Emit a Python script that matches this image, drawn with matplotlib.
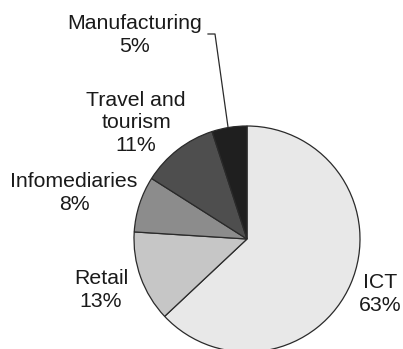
import matplotlib
matplotlib.use("Agg")
import matplotlib.pyplot as plt

categories = ["ICT", "Retail", "Infomediaries", "Travel and\ntourism", "Manufacturing"]
shares = [63, 13, 8, 11, 5]
colors = ["#e8e8e8", "#c6c6c6", "#8c8c8c", "#4e4e4e", "#1f1f1f"]

plt.rcParams['font.family'] = ['Liberation Sans', 'DejaVu Sans']

fig = plt.figure(figsize=(4.03, 3.49), dpi=100)
ax = fig.add_axes([0, 0, 1, 1])

# pixel-like coordinate system with y pointing down
cx, cy, r = 247, 239, 113
ax.pie(shares, colors=colors, startangle=-90, counterclock=True,
       center=(cx, cy), radius=r,
       wedgeprops=dict(edgecolor="#2a2a2a", linewidth=0.9))
ax.set_xlim(0, 403)
ax.set_ylim(349, 0)
ax.set_aspect('equal')
ax.axis('off')

label_pos = [(380, 294), (101, 290), (74, 193), (136, 123), (135, 35)]
for name, val, (x, y) in zip(categories, shares, label_pos):
    ax.text(x, y, f"{name}\n{val}%", ha="center", va="center",
            fontsize=15.3, color="#1a1a1a", linespacing=1.22)

# leader line for Manufacturing
ax.plot([208, 215, 228], [34, 34, 127], color="#2a2a2a", linewidth=0.9)

fig.savefig("out.png", dpi=100)
